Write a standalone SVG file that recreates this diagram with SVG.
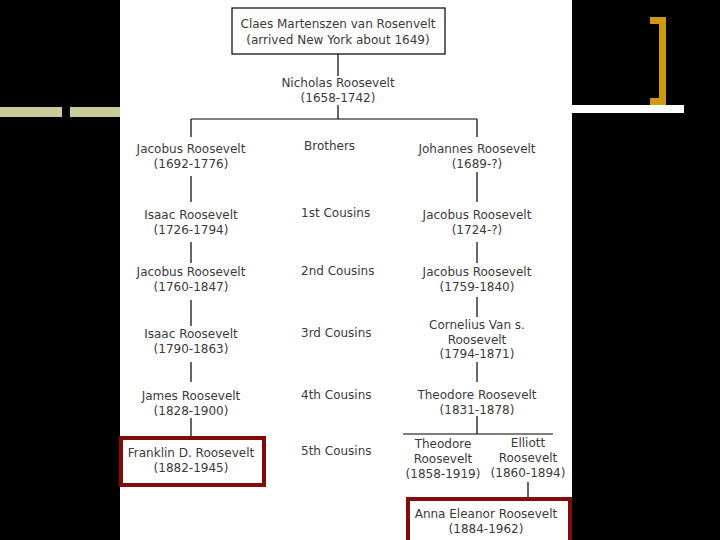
<svg xmlns="http://www.w3.org/2000/svg" width="720" height="540" viewBox="0 0 720 540">
<style>
text{font-family:"DejaVu Sans","Verdana",sans-serif;font-size:12px;fill:#3a3a3a}
.c{text-anchor:middle}
.conn line{stroke:#000;stroke-width:1.2}
.hl{fill:none;stroke:#850b0b;stroke-width:4}
</style>
<rect width="720" height="540" fill="#000"/>
<rect x="120" y="0" width="452" height="540" fill="#fff"/>
<rect x="0" y="107" width="62" height="10" fill="#cccc99"/>
<rect x="70" y="107" width="50" height="10" fill="#cccc99"/>
<rect x="572" y="105" width="112" height="8" fill="#fff"/>
<path d="M650 17H666V105H650V98H659V24H650Z" fill="#d09a10"/>
<g class="conn">
<line x1="338" y1="54" x2="338" y2="76"/>
<line x1="338" y1="105" x2="338" y2="119"/>
<line x1="191" y1="119" x2="477" y2="119"/>
<line x1="191" y1="119" x2="191" y2="137"/>
<line x1="477" y1="119" x2="477" y2="137"/>
<line x1="191" y1="176" x2="191" y2="202"/>
<line x1="477" y1="172" x2="477" y2="202"/>
<line x1="191" y1="242" x2="191" y2="263"/>
<line x1="477" y1="242" x2="477" y2="263"/>
<line x1="191" y1="300" x2="191" y2="326"/>
<line x1="477" y1="297" x2="477" y2="317"/>
<line x1="191" y1="362" x2="191" y2="382"/>
<line x1="477" y1="362" x2="477" y2="382"/>
<line x1="191" y1="418" x2="191" y2="437"/>
<line x1="477" y1="416" x2="477" y2="434"/>
<line x1="403" y1="434" x2="553" y2="434"/>
<line x1="528" y1="482" x2="528" y2="498"/>
</g>
<g id="claes"><rect x="232" y="8" width="213" height="46" fill="#fff" stroke="#000" stroke-width="1.2"/>
<text class="c" x="338" y="28">Claes Martenszen van Rosenvelt</text>
<text class="c" x="338" y="44">(arrived New York about 1649)</text></g>
<g id="nicholas"><text class="c" x="338" y="87">Nicholas Roosevelt</text><text class="c" x="338" y="102">(1658-1742)</text></g>
<g id="jacobus1692"><text class="c" x="191" y="153">Jacobus Roosevelt</text><text class="c" x="191" y="168">(1692-1776)</text></g>
<g id="johannes"><text class="c" x="477" y="153">Johannes Roosevelt</text><text class="c" x="477" y="168">(1689-?)</text></g>
<g id="isaac1726"><text class="c" x="191" y="219">Isaac Roosevelt</text><text class="c" x="191" y="234">(1726-1794)</text></g>
<g id="jacobus1724"><text class="c" x="477" y="219">Jacobus Roosevelt</text><text class="c" x="477" y="234">(1724-?)</text></g>
<g id="jacobus1760"><text class="c" x="191" y="276">Jacobus Roosevelt</text><text class="c" x="191" y="291">(1760-1847)</text></g>
<g id="jacobus1759"><text class="c" x="477" y="276">Jacobus Roosevelt</text><text class="c" x="477" y="291">(1759-1840)</text></g>
<g id="isaac1790"><text class="c" x="191" y="338">Isaac Roosevelt</text><text class="c" x="191" y="353">(1790-1863)</text></g>
<g id="cornelius"><text class="c" x="477" y="329">Cornelius Van s.</text><text class="c" x="477" y="344">Roosevelt</text><text class="c" x="477" y="358">(1794-1871)</text></g>
<g id="james"><text class="c" x="191" y="400">James Roosevelt</text><text class="c" x="191" y="415">(1828-1900)</text></g>
<g id="theodore1831"><text class="c" x="477" y="399">Theodore Roosevelt</text><text class="c" x="477" y="414">(1831-1878)</text></g>
<g id="fdr"><rect class="hl" x="121" y="438" width="143" height="47"/>
<text class="c" x="191" y="457">Franklin D. Roosevelt</text><text class="c" x="191" y="472">(1882-1945)</text></g>
<g id="theodore1858"><text class="c" x="443" y="448">Theodore</text><text class="c" x="443" y="463">Roosevelt</text><text class="c" x="443" y="478">(1858-1919)</text></g>
<g id="elliott"><text class="c" x="528" y="447">Elliott</text><text class="c" x="528" y="462">Roosevelt</text><text class="c" x="528" y="477">(1860-1894)</text></g>
<g id="eleanor"><rect class="hl" x="408" y="499" width="162" height="50"/>
<text class="c" x="486" y="518">Anna Eleanor Roosevelt</text><text class="c" x="486" y="533">(1884-1962)</text></g>
<g id="relations">
<text x="304" y="150">Brothers</text>
<text x="301" y="217">1st Cousins</text>
<text x="301" y="275">2nd Cousins</text>
<text x="301" y="337">3rd Cousins</text>
<text x="301" y="399">4th Cousins</text>
<text x="301" y="455">5th Cousins</text>
</g>
</svg>
